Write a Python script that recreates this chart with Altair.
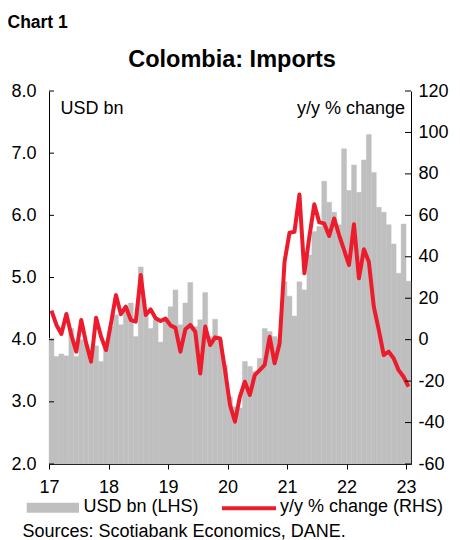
import altair as alt
import pandas as pd

# Monthly data, Jan 2017 .. Jan 2023
usd_bn = [4.02, 3.73, 3.77, 3.74, 4.18, 3.73, 4.00, 3.92, 3.65, 3.90, 3.65, 3.92,
          4.21, 4.40, 4.24, 4.53, 4.59, 4.05, 5.17, 4.40, 4.18, 4.32, 3.96, 4.30,
          4.53, 4.80, 4.24, 4.59, 4.92, 4.21, 4.32, 4.76, 4.05, 4.33, 4.00, 3.59,
          3.08, 2.92, 2.90, 3.65, 3.57, 3.49, 3.70, 4.18, 4.13, 4.05, 4.00, 4.93,
          4.70, 4.38, 4.93, 4.80, 5.36, 5.74, 5.82, 6.55, 6.21, 6.05, 5.85, 7.07,
          6.40, 6.81, 6.37, 6.89, 7.30, 6.69, 6.13, 6.05, 5.85, 5.54, 5.07, 5.86,
          4.94]
yoy = [14.0, 7.1, 2.7, 12.4, 2.2, -5.8, 9.5, -1.8, -10.6, 10.6, 1.4, -5.0,
       7.9, 21.5, 12.3, 15.9, 9.5, 8.7, 31.2, 11.9, 14.6, 10.3, 9.0, 10.2,
       6.9, 5.7, -5.8, 5.0, 7.1, 3.8, -16.3, 6.3, -2.6, 1.1, 0.6, -14.7,
       -31.5, -39.6, -27.5, -20.3, -26.7, -17.1, -14.7, -12.2, 1.4, -11.4, -1.8, 37.6,
       51.6, 52.1, 70.1, 32.0, 49.7, 65.3, 56.6, 56.1, 50.0, 58.5, 50.5, 43.3,
       36.0, 55.7, 29.6, 43.6, 37.6, 15.9, 4.7, -7.4, -5.8, -9.0, -14.7, -17.9,
       -22.7]
months = list(range(len(usd_bn)))
year_ticks = [0, 12, 24, 36, 48, 60, 72]
left_ticks = [2, 3, 4, 5, 6, 7, 8]
right_ticks = [-60, -40, -20, 0, 20, 40, 60, 80, 100, 120]

W, H = 362, 373
FONT = "Liberation Sans"
GRAY = "#BFBFBF"
RED = "#EC1C2D"

df = pd.DataFrame({"i": months, "usd": usd_bn, "yoy": yoy})
df["x0"] = df["i"]
df["x1"] = df["i"] + 1
df["xc"] = df["i"] + 0.5

xscale = alt.Scale(domain=[0, len(months)], nice=False, zero=False)
xaxis = alt.Axis(values=year_ticks, labelExpr="'' + (17 + datum.value / 12)",
                 title=None, grid=False, tickSize=5, tickColor="black",
                 domainColor="black", labelFont=FONT, labelFontSize=18,
                 labelColor="black", labelPadding=9, labelFlush=False)

left_axis = alt.Axis(values=left_ticks, format=".1f", orient="left", title=None,
                     grid=False, ticks=False, domainColor="black", labelFont=FONT,
                     labelFontSize=18, labelColor="black", labelPadding=13)
right_axis = alt.Axis(values=right_ticks, labelExpr="'' + datum.value", orient="right",
                      title=None, grid=False, ticks=False, domainColor="black",
                      labelFont=FONT, labelFontSize=18, labelColor="black",
                      labelPadding=7)

lscale = alt.Scale(domain=[2, 8], nice=False, zero=False)
rscale = alt.Scale(domain=[-60, 120], nice=False, zero=False)

bars = alt.Chart(df).mark_bar(color=GRAY, stroke=GRAY, strokeWidth=0.4).encode(
    x=alt.X("x0:Q", scale=xscale, axis=xaxis),
    x2="x1:Q",
    y=alt.Y("usd:Q", scale=lscale, axis=left_axis),
    y2=alt.datum(2),
)
lt = alt.Chart(pd.DataFrame({"v": left_ticks})).mark_rule(color="black", strokeWidth=1).encode(
    y=alt.Y("v:Q", scale=lscale, axis=left_axis),
    x=alt.value(0), x2=alt.value(5),
)
left_layer = alt.layer(bars, lt)

line = alt.Chart(df).mark_line(color=RED, strokeWidth=4, strokeJoin="round").encode(
    x=alt.X("xc:Q", scale=xscale, axis=xaxis),
    y=alt.Y("yoy:Q", scale=rscale, axis=right_axis),
)
rt = alt.Chart(pd.DataFrame({"v": right_ticks})).mark_rule(color="black", strokeWidth=1).encode(
    y=alt.Y("v:Q", scale=rscale, axis=right_axis),
    x=alt.value(W - 6), x2=alt.value(W),
)
right_layer = alt.layer(line, rt)

one = pd.DataFrame({"a": [0]})


def txt(s, x, y, size=18, bold=False, align="left"):
    return alt.Chart(one).mark_text(
        text=s, font=FONT, fontSize=size, fontWeight="bold" if bold else "normal",
        align=align, baseline="alphabetic", color="black",
    ).encode(x=alt.value(x), y=alt.value(y))


texts = [
    txt("Chart 1", -41.5, -63, size=17.5, bold=True),
    txt("Colombia: Imports", 183, -24.5, size=23.5, bold=True, align="center"),
    txt("USD bn", 11.5, 22.5),
    txt("y/y % change", 356, 22.5, align="right"),
    txt("USD bn (LHS)", 34.5, 421),
    txt("y/y % change (RHS)", 231, 421),
    txt("Sources: Scotiabank Economics, DANE.", -26.5, 446),
]
sw_gray = alt.Chart(one).mark_rect(color=GRAY).encode(
    x=alt.value(-22.3), x2=alt.value(30), y=alt.value(411.7), y2=alt.value(421.7))
sw_red = alt.Chart(one).mark_rule(color=RED, strokeWidth=4).encode(
    x=alt.value(173), x2=alt.value(227), y=alt.value(417.3))

chart = alt.layer(left_layer, right_layer, sw_gray, sw_red, *texts).resolve_scale(
    y="independent"
).properties(
    width=W, height=H,
    autosize=alt.AutoSizeParams(type="none"),
    padding={"left": 41, "top": 83, "right": 41, "bottom": 76},
).configure_view(stroke=None)

chart.save("out.html", embed_options={"renderer": "svg", "actions": False})
